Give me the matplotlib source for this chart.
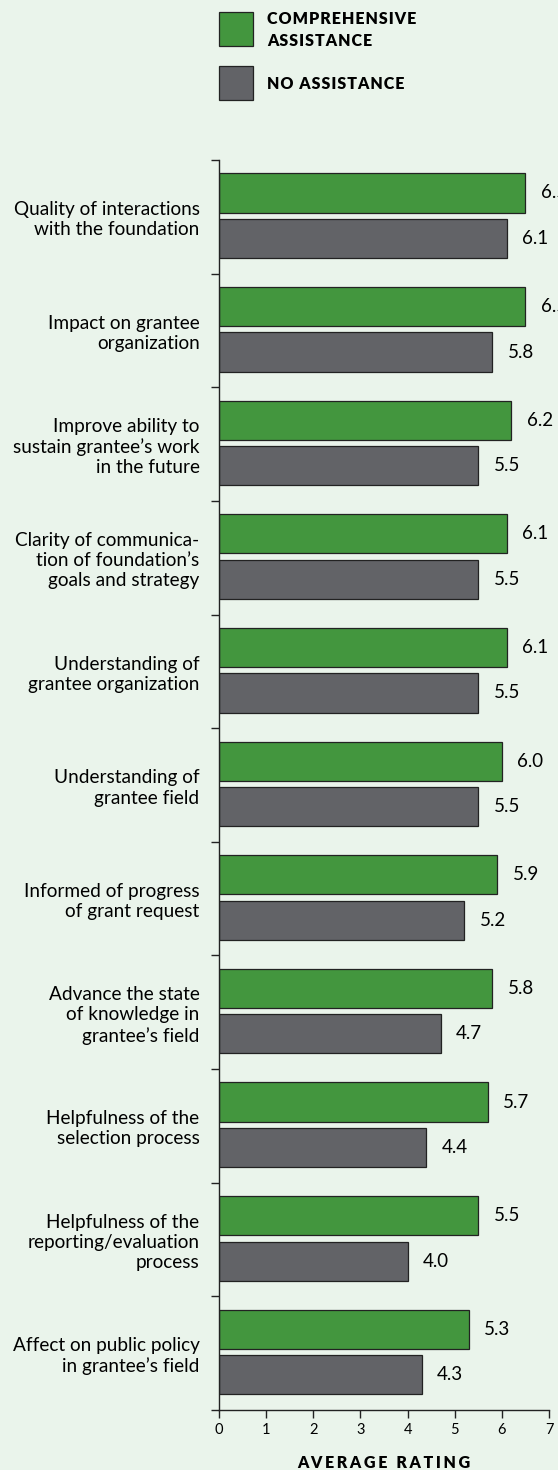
import numpy as np
import matplotlib.pyplot as plt
from matplotlib.patches import Rectangle

# Categories (top to bottom) and average ratings
categories = [
    "Quality of interactions\nwith the foundation",
    "Impact on grantee\norganization",
    "Improve ability to\nsustain grantee\u2019s work\nin the future",
    "Clarity of communica-\ntion of foundation\u2019s\ngoals and strategy",
    "Understanding of\ngrantee organization",
    "Understanding of\ngrantee field",
    "Informed of progress\nof grant request",
    "Advance the state\nof knowledge in\ngrantee\u2019s field",
    "Helpfulness of the\nselection process",
    "Helpfulness of the\nreporting/evaluation\nprocess",
    "Affect on public policy\nin grantee\u2019s field",
]
comprehensive = [6.5, 6.5, 6.2, 6.1, 6.1, 6.0, 5.9, 5.8, 5.7, 5.5, 5.3]
no_assistance = [6.1, 5.8, 5.5, 5.5, 5.5, 5.5, 5.2, 4.7, 4.4, 4.0, 4.3]
series_names = ["COMPREHENSIVE\nASSISTANCE", "NO ASSISTANCE"]
x_ticks = [0, 1, 2, 3, 4, 5, 6, 7]

GREEN = "#43963e"
GRAY = "#626367"
BG = "#eaf4eb"
EDGE = "#222222"

plt.rcParams['font.family'] = ['Lato', 'DejaVu Sans']

W, H = 558, 1470
fig = plt.figure(figsize=(W / 100, H / 100), dpi=100, facecolor=BG)

# axes placed in pixel terms
left, right, top, bottom = 219, 549, 160, 1410
ax = fig.add_axes([left / W, 1 - bottom / H, (right - left) / W, (bottom - top) / H])
ax.set_facecolor(BG)

n = len(categories)
y = np.arange(n)
bh = 0.345
ax.barh(y + 0.29, comprehensive, height=bh, color=GREEN, edgecolor=EDGE, linewidth=0.9)
ax.barh(y + 0.69, no_assistance, height=bh, color=GRAY, edgecolor=EDGE, linewidth=0.9)

for i in range(n):
    ax.annotate(f"{comprehensive[i]:.1f}", (comprehensive[i], i + 0.29), xytext=(11, 0),
                textcoords='offset points', va='center', ha='left', fontsize=13.5,
                annotation_clip=False)
    ax.annotate(f"{no_assistance[i]:.1f}", (no_assistance[i], i + 0.69), xytext=(11, 0),
                textcoords='offset points', va='center', ha='left', fontsize=13.5,
                annotation_clip=False)

ax.set_xlim(0, 7)
ax.set_ylim(n, 0)

ax.set_yticks(np.arange(n + 1))
ax.set_yticklabels([])
ax.set_yticks(y + 0.5, minor=True)
ax.set_yticklabels(categories, minor=True, fontsize=13.7, linespacing=1.22, ha='right')
ax.tick_params(axis='y', which='major', direction='out', length=6, width=1, color=EDGE)
ax.tick_params(axis='y', which='minor', length=0, pad=14)

ax.set_xticks(x_ticks)
ax.set_xticklabels([str(t) for t in x_ticks], fontsize=10.5)
ax.tick_params(axis='x', direction='out', length=6, width=1, color=EDGE, pad=3)

for s in ['top', 'right']:
    ax.spines[s].set_visible(False)
for s in ['left', 'bottom']:
    ax.spines[s].set_color(EDGE)
    ax.spines[s].set_linewidth(1)

hair = "\u200a"
six = "\u2006"
ax.set_xlabel(six.join("AVERAGE RATING"), fontsize=11.5, fontweight='heavy', labelpad=13)

# legend
for k, (name, col) in enumerate(zip(series_names, [GREEN, GRAY])):
    y0 = 12 + k * 54
    fig.add_artist(Rectangle((219 / W, 1 - (y0 + 34) / H), 34 / W, 34 / H,
                             transform=fig.transFigure, facecolor=col,
                             edgecolor=EDGE, linewidth=0.9))
    txt = "\n".join(hair.join(line) for line in name.split("\n"))
    fig.text(267 / W, 1 - (y0 + 18) / H, txt, fontsize=11.5, fontweight='heavy',
             va='center', ha='left', linespacing=1.45)

fig.savefig("out.png", dpi=100, facecolor=BG)
